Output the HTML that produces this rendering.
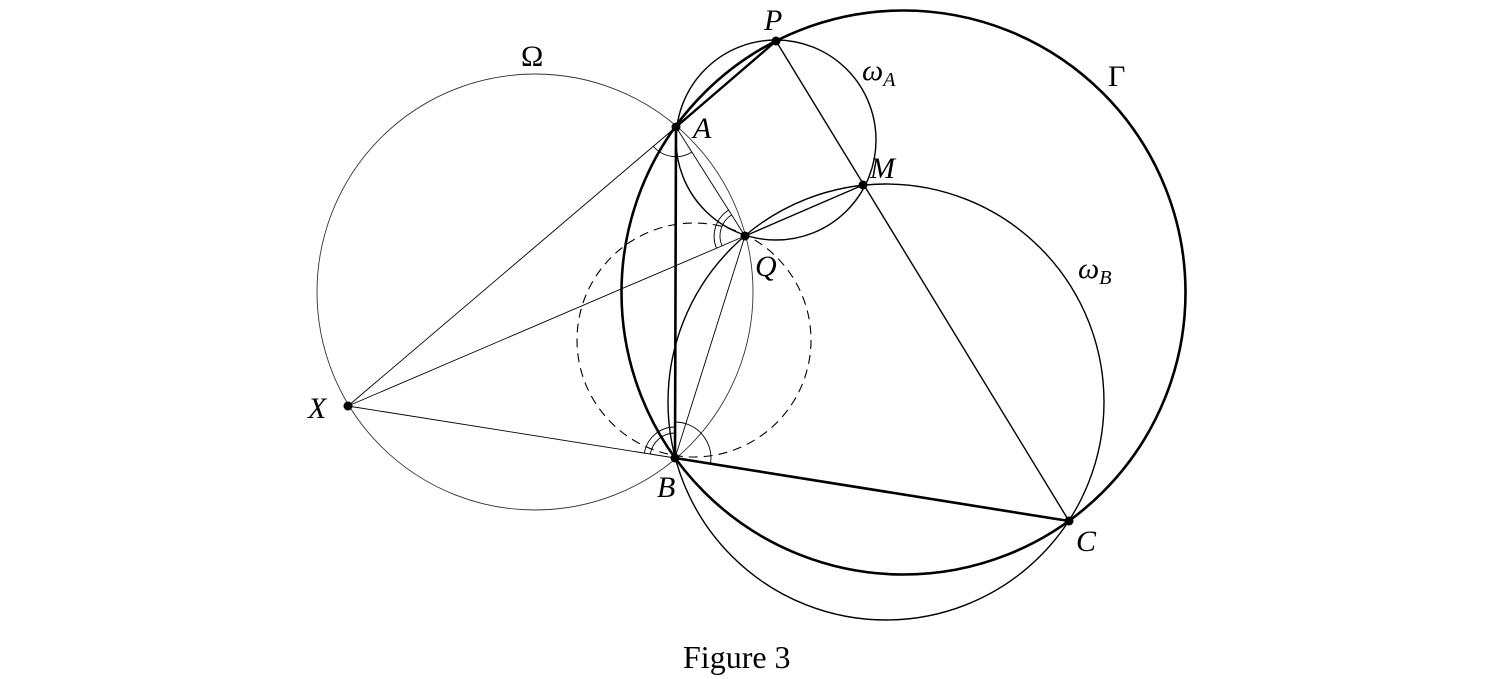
<!DOCTYPE html>
<html><head><meta charset="utf-8"><style>
html,body{margin:0;padding:0;background:#fff;}
svg{display:block}
text{font-family:"Liberation Serif",serif;fill:#000}
.i{font-style:italic}
</style></head><body>
<svg width="1498" height="679" viewBox="0 0 1498 679" xmlns="http://www.w3.org/2000/svg">
<g fill="none" stroke="#000">
<circle cx="903.5" cy="292.5" r="282" stroke-width="2.6"/>
<circle cx="535" cy="292" r="218" stroke-width="0.9" stroke="#333"/>
<circle cx="776" cy="140" r="100" stroke-width="1.4"/>
<circle cx="886" cy="402" r="218" stroke-width="1.4"/>
<circle cx="694" cy="340" r="117" stroke-width="1.1" stroke-dasharray="9,6"/>
<line x1="676" y1="127" x2="675" y2="458" stroke-width="2.6"/>
<line x1="675" y1="458" x2="1069" y2="521" stroke-width="2.6"/>
<line x1="776" y1="41" x2="676" y2="127" stroke-width="2.4"/>
<line x1="776" y1="41" x2="1069" y2="521" stroke-width="1.4"/>
<line x1="348" y1="406" x2="676" y2="127" stroke-width="0.9"/>
<line x1="348" y1="406" x2="745" y2="236" stroke-width="0.9"/>
<line x1="348" y1="406" x2="675" y2="458" stroke-width="0.9"/>
<line x1="676" y1="127" x2="745" y2="236" stroke-width="0.9"/>
<line x1="745" y1="236" x2="675" y2="458" stroke-width="0.9"/>
<line x1="745" y1="236" x2="863" y2="185" stroke-width="1.4"/>
<g stroke-width="0.9">
<path d="M653,146 A30,30 0 0 0 692,152"/>
<path d="M731.6,214.9 A25,25 0 0 0 722,245.8"/>
<path d="M728.4,210.2 A31,31 0 0 0 716.5,248.2"/>
<path d="M650.3,454.1 A25,25 0 0 1 675,433"/>
<path d="M644.4,453.1 A31,31 0 0 1 675,427"/>
<path d="M675,422 A36,36 0 0 1 710.5,463.7"/>
</g>
</g>
<g fill="#000">
<circle cx="776" cy="41" r="4.5"/>
<circle cx="676" cy="127" r="4.5"/>
<circle cx="863" cy="185" r="4.5"/>
<circle cx="745" cy="236" r="4.5"/>
<circle cx="348" cy="406" r="4.5"/>
<circle cx="675" cy="458" r="4.5"/>
<circle cx="1069" cy="521" r="4.5"/>
</g>
<g font-size="30">
<text class="i" x="764" y="30">P</text>
<text class="i" x="693" y="138">A</text>
<text class="i" x="870" y="178">M</text>
<text class="i" x="755" y="276">Q</text>
<text class="i" x="308" y="418">X</text>
<text class="i" x="657" y="497">B</text>
<text class="i" x="1076" y="551">C</text>
<text class="i" x="862" y="80">ω<tspan font-size="20" dy="6">A</tspan></text>
<text class="i" x="1078" y="278">ω<tspan font-size="20" dy="6">B</tspan></text>
<text x="1108" y="86">Γ</text>
<text x="521" y="66">Ω</text>
<text x="683" y="668" font-size="32">Figure 3</text>
</g>
</svg>
</body></html>
